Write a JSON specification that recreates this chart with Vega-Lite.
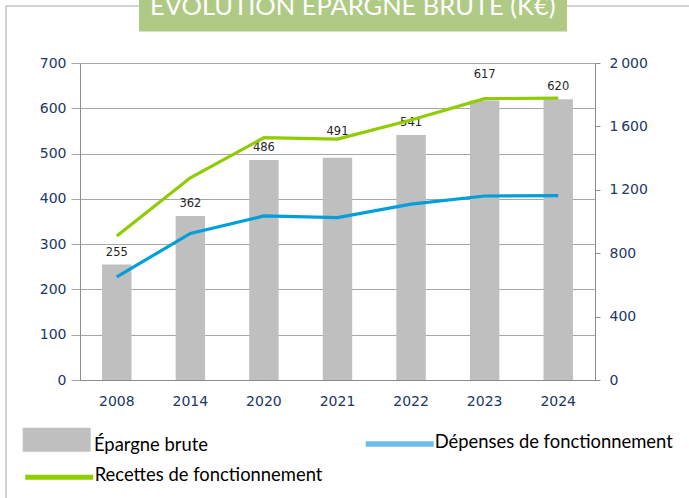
{
  "$schema": "https://vega.github.io/schema/vega-lite/v6.json",
  "autosize": "none",
  "padding": {"left": 80, "top": 63, "right": 94, "bottom": 118},
  "width": 515,
  "height": 317,
  "background": "white",
  "config": {"view": {"stroke": null}, "font": "DejaVu Sans"},
  "data": {"values": [
    {"annee": "2008", "epargne": 255, "depenses": 650, "recettes": 908},
    {"annee": "2014", "epargne": 362, "depenses": 925, "recettes": 1276},
    {"annee": "2020", "epargne": 486, "depenses": 1035, "recettes": 1529},
    {"annee": "2021", "epargne": 491, "depenses": 1024, "recettes": 1520},
    {"annee": "2022", "epargne": 541, "depenses": 1110, "recettes": 1640},
    {"annee": "2023", "epargne": 617, "depenses": 1161, "recettes": 1775},
    {"annee": "2024", "epargne": 620, "depenses": 1163, "recettes": 1778}
  ]},
  "encoding": {
    "x": {
      "field": "annee", "type": "ordinal",
      "scale": {"paddingInner": 0.6, "paddingOuter": 0.3},
      "axis": {"title": null, "labelAngle": 0, "ticks": false, "tickSize": 0, "domainColor": "#8C8C8C", "labelPadding": 14, "labelFontSize": 14, "labelColor": "#203864", "labelFont": "DejaVu Sans"}
    }
  },
  "layer": [
    {
      "layer": [
        {
          "mark": {"type": "bar"},
          "encoding": {
            "y": {
              "field": "epargne", "type": "quantitative",
              "scale": {"domain": [0, 700], "nice": false},
              "axis": {"orient": "left", "title": null, "values": [0, 100, 200, 300, 400, 500, 600, 700], "grid": true, "gridColor": "#A6A6A6", "domainColor": "#8C8C8C", "tickColor": "#A6A6A6", "tickSize": 9, "labelPadding": 5, "labelFontSize": 14, "labelColor": "#203864", "labelFont": "DejaVu Sans"}
            },
            "fill": {
              "datum": "Épargne brute", "type": "nominal",
              "scale": {"range": ["#BFBFBF"]},
              "legend": {"orient": "none", "legendX": -57.3, "legendY": 342.7, "title": null, "padding": 0, "symbolType": "M-1,-0.353H1V0.353H-1Z", "symbolSize": 4624, "symbolStrokeWidth": 0, "labelFont": "Lato", "labelFontSize": 18.4, "labelColor": "#000000", "labelOffset": 3.3, "labelLimit": 400, "labelBaseline": "alphabetic",
                "encode": {"labels": {"update": {"dy": {"value": 11}}}}}
            }
          }
        },
        {
          "transform": [{"filter": "datum.annee != '2021' && datum.annee != '2023'"}],
          "mark": {"type": "text", "dy": -12, "baseline": "middle", "fontSize": 11.5, "font": "DejaVu Sans", "color": "#262626"},
          "encoding": {
            "y": {"field": "epargne", "type": "quantitative"},
            "text": {"field": "epargne", "type": "quantitative"}
          }
        },
        {
          "transform": [{"filter": "datum.annee == '2021' || datum.annee == '2023'"}],
          "mark": {"type": "text", "dy": -25.5, "baseline": "middle", "fontSize": 11.5, "font": "DejaVu Sans", "color": "#262626"},
          "encoding": {
            "y": {"field": "epargne", "type": "quantitative"},
            "text": {"field": "epargne", "type": "quantitative"}
          }
        }
      ]
    },
    {
      "layer": [
        {
          "mark": {"type": "line", "strokeWidth": 3.2},
          "encoding": {
            "y": {
              "field": "depenses", "type": "quantitative",
              "scale": {"domain": [0, 2000], "nice": false},
              "axis": {"orient": "right", "title": null, "values": [0, 400, 800, 1200, 1600, 2000], "grid": false, "domainColor": "#8C8C8C", "tickColor": "#8C8C8C", "tickSize": 5, "labelPadding": 9, "labelFontSize": 14, "labelColor": "#203864", "labelFont": "DejaVu Sans", "labelExpr": "replace(format(datum.value, ','), ',', '\u2009')"}
            },
            "stroke": {"value": "#009FDB"}
          }
        },
        {
          "mark": {"type": "line", "strokeWidth": 3.2},
          "encoding": {
            "y": {"field": "recettes", "type": "quantitative"},
            "color": {
              "datum": "Recettes de fonctionnement", "type": "nominal",
              "scale": {"range": ["#8FCC00"]},
              "legend": {"orient": "none", "legendX": -57.3, "legendY": 377.7, "title": null, "padding": 0, "symbolType": "stroke", "symbolSize": 4624, "symbolStrokeWidth": 5, "labelFont": "Lato", "labelFontSize": 18.4, "labelColor": "#000000", "labelOffset": -1, "labelLimit": 400, "labelBaseline": "alphabetic",
                "encode": {"labels": {"update": {"dy": {"value": 3.8}}}}}
            }
          }
        }
      ]
    },
    {
      "mark": {"type": "line", "opacity": 0},
      "encoding": {
        "stroke": {
          "datum": "Dépenses de fonctionnement", "type": "nominal",
          "scale": {"range": ["#6CBDEB"]},
          "legend": {"orient": "none", "legendX": 282.7, "legendY": 344, "title": null, "padding": 0, "symbolType": "stroke", "symbolSize": 4624, "symbolStrokeWidth": 5.5, "symbolOpacity": 1, "labelFont": "Lato", "labelFontSize": 18.4, "labelColor": "#000000", "labelOffset": -2, "labelLimit": 400, "labelBaseline": "alphabetic",
            "encode": {"labels": {"update": {"dy": {"value": 4}}}}}
        }
      }
    },
    {
      "mark": {"type": "point", "opacity": 0},
      "encoding": {
        "shape": {
          "datum": "cadre", "type": "nominal",
          "legend": {"orient": "none", "legendX": -74.5, "legendY": -57.5, "title": null, "padding": 0, "symbolSize": 640000, "symbolOpacity": 0, "labelExpr": "''", "strokeColor": "#A6A6A6", "zindex": 0,
            "encode": {"legend": {"update": {"strokeWidth": {"value": 1.5}}}}}
        }
      }
    },
    {
      "mark": {"type": "point", "opacity": 0},
      "encoding": {
        "strokeDash": {
          "datum": "titre", "type": "nominal",
          "legend": {"orient": "none", "legendX": 59, "legendY": -79.5, "title": "ÉVOLUTION ÉPARGNE BRUTE (K€)", "titleColor": "#FFFFFF", "titleFont": "Lato", "titleFontSize": 25.5, "titleFontWeight": "normal", "titleLimit": 800, "titlePadding": -4, "padding": 11, "fillColor": "#AFCA84", "symbolSize": 0, "symbolOpacity": 0, "labelExpr": "''", "labelFontSize": 1, "rowPadding": 0, "zindex": 1}
        }
      }
    }
  ],
  "resolve": {"scale": {"y": "independent"}}
}
